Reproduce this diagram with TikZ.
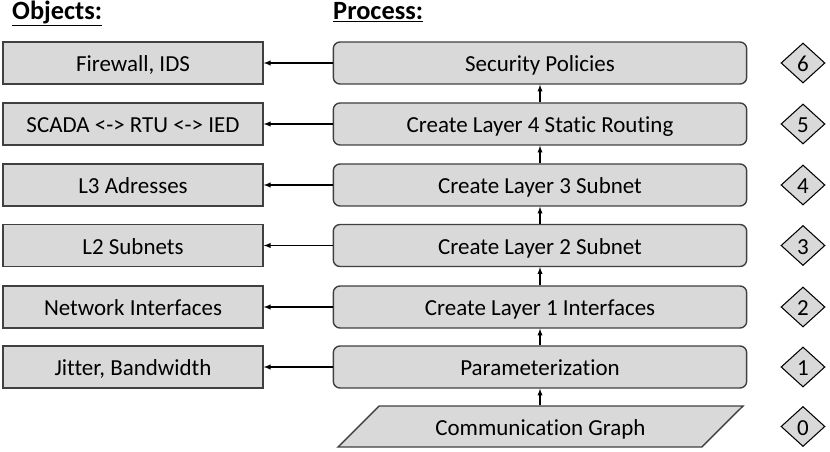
\documentclass[tikz,border=0pt]{standalone}
\usepackage{fontspec}
\setmainfont{Carlito}[Ligatures=CommonOff]
\usetikzlibrary{shapes.geometric,arrows}
\definecolor{boxgray}{HTML}{D9D9D9}
\definecolor{edgegray}{HTML}{404040}

\begin{document}
\begin{tikzpicture}[x=0.03cm,y=-0.03cm,
    every node/.style={font=\fontsize{19.6}{23}\selectfont,text height=0.57cm,text depth=0.06cm},
    head/.style={anchor=base west,inner sep=0pt,text height=,text depth=,font=\fontsize{22.5}{26}\selectfont\bfseries},
    objbox/.style={draw=edgegray,fill=boxgray,line width=1.2pt,inner sep=0pt,minimum width=7.8cm,minimum height=1.26cm},
    procbox/.style={objbox,rounded corners=0.2cm,minimum width=12.4cm},
    stepmark/.style={diamond,draw=black,fill=boxgray,line width=0.9pt,inner sep=0pt,aspect=1.1,minimum width=1.32cm,minimum height=1.2cm},
    arr/.style={-latex,line width=1pt}]
  \useasboundingbox (0,0) rectangle (830,452);
  % headers
  \node[head] (objhead) at (12,19.5) {\underline{Objects:}};
  \node[head] (prochead) at (333,19.5) {\underline{Process:}};
  % objects
  \node[objbox] (o6) at (133,63) {Firewall, IDS};
  \node[objbox] (o5) at (133,124) {SCADA <-> RTU <-> IED};
  \node[objbox] (o4) at (133,185) {L3 Adresses};
  \node[objbox] (o3) at (133,245.5) {L2 Subnets};
  \node[objbox] (o2) at (133,307) {Network Interfaces};
  \node[objbox] (o1) at (133,367) {Jitter, Bandwidth};
  % process
  \node[procbox] (p6) at (540,63) {Security Policies};
  \node[procbox] (p5) at (540,124) {Create Layer 4 Static Routing};
  \node[procbox] (p4) at (540,185) {Create Layer 3 Subnet};
  \node[procbox] (p3) at (540,245.5) {Create Layer 2 Subnet};
  \node[procbox] (p2) at (540,307) {Create Layer 1 Interfaces};
  \node[procbox] (p1) at (540,367) {Parameterization};
  \node[trapezium,trapezium stretches body,trapezium left angle=27,trapezium right angle=153,
    draw=edgegray,fill=boxgray,line width=1.2pt,inner sep=0pt,minimum width=12.15cm,minimum height=1.23cm]
    (graph) at (540.5,426.5) {Communication Graph};
  % steps
  \node[stepmark] (s6) at (803,63) {6};
  \node[stepmark] (s5) at (803,124) {5};
  \node[stepmark] (s4) at (803,185) {4};
  \node[stepmark] (s3) at (803,245.5) {3};
  \node[stepmark] (s2) at (803,307) {2};
  \node[stepmark] (s1) at (803,367) {1};
  \node[stepmark] (s0) at (803,426.5) {0};
  % arrows
  \draw[arr] (p6) -- (o6);
  \draw[arr] (p5) -- (o5);
  \draw[arr] (p4) -- (o4);
  \draw[arr] (p3) -- (o3);
  \draw[arr] (p2) -- (o2);
  \draw[arr] (p1) -- (o1);
  \draw[arr] (p5) -- (p6);
  \draw[arr] (p4) -- (p5);
  \draw[arr] (p3) -- (p4);
  \draw[arr] (p2) -- (p3);
  \draw[arr] (p1) -- (p2);
  \draw[arr] (p1.south |- graph.north) -- (p1.south);
\end{tikzpicture}
\end{document}
